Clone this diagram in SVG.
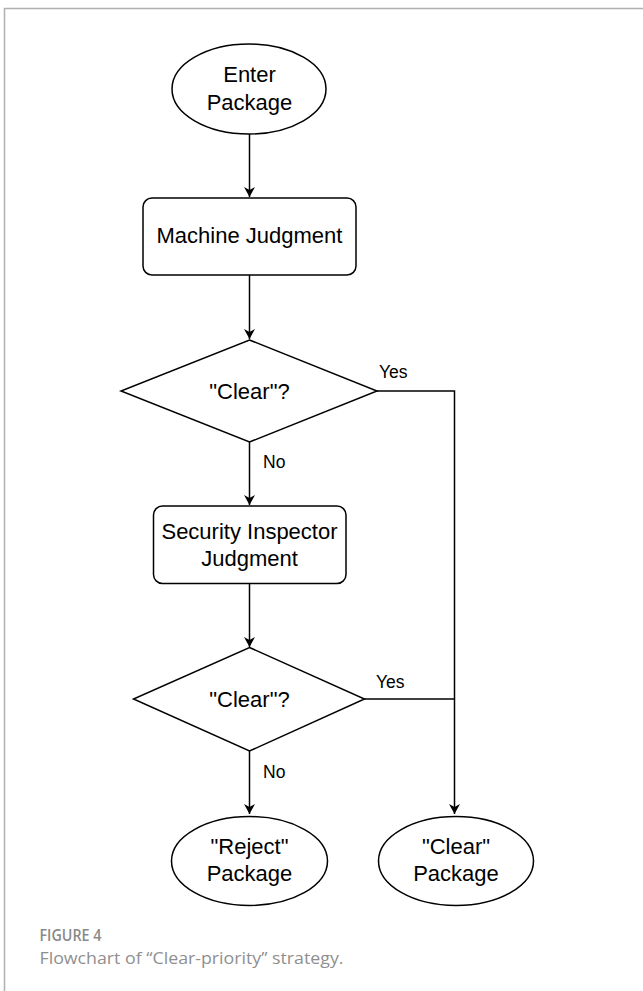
<svg xmlns="http://www.w3.org/2000/svg" width="643" height="991" viewBox="0 0 643 991">
<style>
.shape{fill:#fff;stroke:#000;stroke-width:1.5}
.lbl{font-family:"Liberation Sans",Arial,sans-serif;font-size:22px;fill:#000;text-anchor:middle}
.edge{font-family:"Liberation Sans",Arial,sans-serif;font-size:17.5px;fill:#000}
.conn{fill:none;stroke:#000;stroke-width:1.5}
.frame{fill:none;stroke:#b0b0b0;stroke-width:1.5}
</style>
<defs>
<marker id="arr" markerUnits="userSpaceOnUse" markerWidth="12" markerHeight="12" refX="10" refY="6" orient="auto">
<path d="M0,0.5 L10,6 L0,11.5 L3,6 Z" fill="#000"/>
</marker>
</defs>
<rect width="643" height="991" fill="#fff"/>
<path class="frame" d="M4.5,991 L4.5,8.5 L643,8.5"/>
<g id="connectors">
<line class="conn" x1="249.5" y1="133.5" x2="249.5" y2="197" marker-end="url(#arr)"/>
<line class="conn" x1="249.5" y1="275" x2="249.5" y2="339" marker-end="url(#arr)"/>
<line class="conn" x1="249.5" y1="442" x2="249.5" y2="505" marker-end="url(#arr)"/>
<line class="conn" x1="249.5" y1="583" x2="249.5" y2="647" marker-end="url(#arr)"/>
<line class="conn" x1="249.5" y1="751" x2="249.5" y2="814" marker-end="url(#arr)"/>
<polyline class="conn" points="377,391 454.5,391 454.5,814" marker-end="url(#arr)"/>
<line class="conn" x1="364.5" y1="699" x2="454.5" y2="699"/>
<text class="edge" x="379" y="378">Yes</text>
<text class="edge" x="263" y="468">No</text>
<text class="edge" x="376" y="688">Yes</text>
<text class="edge" x="263" y="778">No</text>
</g>
<g id="enter">
<ellipse class="shape" cx="249" cy="89" rx="77" ry="45"/>
<text class="lbl" x="249.5" y="82">Enter</text>
<text class="lbl" x="249.5" y="110">Package</text>
</g>
<g id="machine">
<rect class="shape" x="143" y="198" width="213" height="77" rx="9"/>
<text class="lbl" x="249.5" y="243">Machine Judgment</text>
</g>
<g id="decision1">
<polygon class="shape" points="249.5,340 377,391 249.5,442 121,391"/>
<text class="lbl" x="249.5" y="399">"Clear"?</text>
</g>
<g id="inspector">
<rect class="shape" x="153.5" y="506" width="192.5" height="77.5" rx="9"/>
<text class="lbl" x="249.5" y="538.5">Security Inspector</text>
<text class="lbl" x="249.5" y="566">Judgment</text>
</g>
<g id="decision2">
<polygon class="shape" points="249.5,647.5 364.5,699 249.5,751 133.5,699"/>
<text class="lbl" x="249.5" y="707">"Clear"?</text>
</g>
<g id="reject">
<ellipse class="shape" cx="249.5" cy="861" rx="78" ry="44.5"/>
<text class="lbl" x="249.5" y="853.5">"Reject"</text>
<text class="lbl" x="249.5" y="881">Package</text>
</g>
<g id="clear">
<ellipse class="shape" cx="456" cy="861" rx="77.5" ry="44.5"/>
<text class="lbl" x="456" y="853.5">"Clear"</text>
<text class="lbl" x="456" y="881">Package</text>
</g>
<g id="caption">
<text x="39.5" y="941" font-family="'Open Sans','Liberation Sans',sans-serif" font-size="15.5" font-weight="600" fill="#8a8a8a" textLength="62" lengthAdjust="spacingAndGlyphs">FIGURE 4</text>
<text x="39.5" y="964" font-family="'Open Sans','Liberation Sans',sans-serif" font-size="17" fill="#8f8f8f" textLength="304" lengthAdjust="spacingAndGlyphs">Flowchart of “Clear-priority” strategy.</text>
</g>
</svg>
